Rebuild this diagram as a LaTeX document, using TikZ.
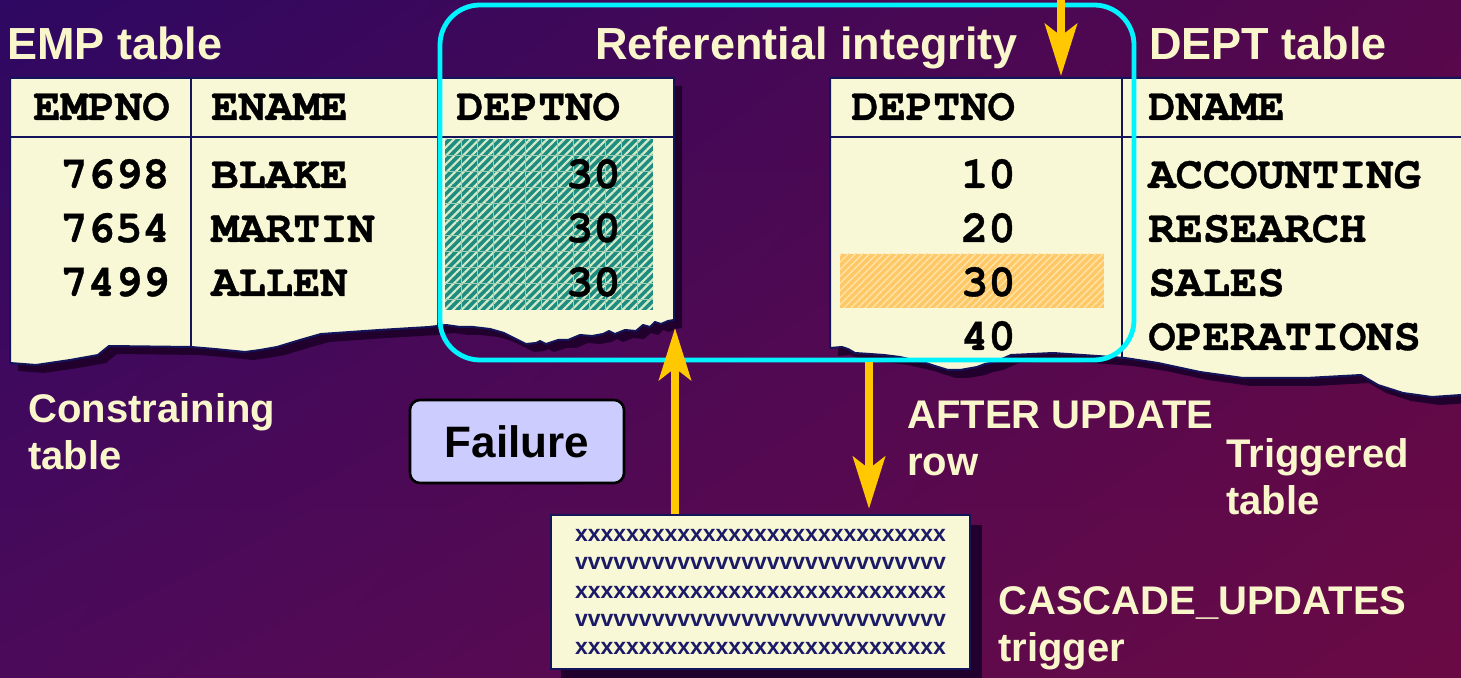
\documentclass[tikz,border=0pt]{standalone}
\usepackage{fontspec}
\setmainfont{Liberation Sans}
\newfontfamily\monofont[BoldFeatures={FakeBold=0.8}]{TeX Gyre Cursor}
\usetikzlibrary{arrows.meta,patterns.meta,shadings}
\definecolor{bgul}{HTML}{2E0862}
\definecolor{bgur}{HTML}{56084C}
\definecolor{bgll}{HTML}{4C0A5A}
\definecolor{bglr}{HTML}{6A0A44}
\definecolor{paper}{HTML}{F8F7D6}
\definecolor{navyc}{HTML}{14145A}
\definecolor{shadowc}{HTML}{22002E}
\definecolor{creamtxt}{HTML}{FAF6CC}
\definecolor{cyanc}{HTML}{00F4FF}
\definecolor{yellowc}{HTML}{FFC800}
\definecolor{tealc}{HTML}{1E8C80}
\definecolor{tealstripe}{HTML}{D4EAC8}
\definecolor{orangec}{HTML}{FFC866}
\definecolor{orangestripe}{HTML}{FFE3A8}
\definecolor{lavender}{HTML}{CCCCFF}
\definecolor{trigtxt}{HTML}{1A1A66}
\tikzset{
  title/.style={text=creamtxt, font=\bfseries\fontsize{22.5}{27}\selectfont, anchor=base west, inner sep=0pt},
  lbl/.style={text=creamtxt, font=\bfseries\fontsize{20}{23.5}\selectfont, align=left, anchor=north west, inner sep=0pt},
  cell/.style={text=black, font=\monofont\bfseries\fontsize{22.7}{27}\selectfont, inner sep=0pt},
  cellL/.style={cell, anchor=base west},
  cellR/.style={cell, anchor=base east},
  tablebody/.style={fill=paper, draw=navyc, line width=1pt, line join=round},
  tableshadow/.style={fill=shadowc},
  rule/.style={draw=navyc, line width=1pt},
  arr/.style={draw=yellowc, line width=4pt, -{Stealth[length=26pt, width=16pt, inset=6pt, fill=yellowc]}},
  cyanbox/.style={draw=cyanc, line width=2.4pt, rounded corners=20pt},
  failbox/.style={draw=black, line width=1.3pt, fill=lavender, rounded corners=5pt, minimum width=107pt, minimum height=41.5pt, font=\bfseries\fontsize{22}{26}\selectfont, inner sep=0pt},
  trigbox/.style={draw=navyc, line width=1.2pt, fill=paper, minimum width=209.5pt, minimum height=77pt, align=center, text=trigtxt, font=\bfseries\fontsize{11.5}{14.15}\selectfont, inner sep=0pt}
}
\def\emppath{(10,78) -- (674,78) -- (674,320) -- (668,321) -- (661,324) -- (655,322) -- (650,327) -- (643,325) -- (636,331) -- (625,330) -- (615,334) -- (609,331) -- (603,334) -- (592,336) -- (580,335) -- (568,340) -- (558,340) -- (546,344) -- (540,341) -- (536,343) -- (526,344) -- (518,340) -- (504,333) -- (490,329) -- (473,327) -- (460,327) -- (446,325) -- (429,327) -- (379,330) -- (321,334) -- (300,340) -- (277,347) -- (260,350) -- (245,352) -- (215,349) -- (191,347) -- (109,346) -- (104,350) -- (98,355) -- (70,360) -- (36,365) -- (10,363) -- cycle}
\def\deptpath{(830,78) -- (1480,78) -- (1480,395) -- (1461,395) -- (1432,397) -- (1403,393) -- (1378,385) -- (1361,375) -- (1306,378) -- (1243,378) -- (1200,372) -- (1158,363) -- (1125,358) -- (1112,357) -- (1053,353) -- (1011,355) -- (995,362) -- (985,364) -- (977,367) -- (960,370) -- (948,370) -- (935,366) -- (926,363) -- (900,357) -- (884,355) -- (870,354) -- (855,353) -- (848,349) -- (842,347) -- (830,348) -- cycle}
\begin{document}
\begin{tikzpicture}[x=0.5pt,y=-0.5pt]
\useasboundingbox (0,0) rectangle (1461,678);
\clip (0,0) rectangle (1461,678);
% background
\shade[upper left=bgul, upper right=bgur, lower left=bgll, lower right=bglr] (0,0) rectangle (1461,678);

% ---------- EMP table ----------
\fill[tableshadow, shift={(8,8)}] \emppath;
\path[tablebody] \emppath;
\fill[tealc] (445,139) rectangle (653,310);
\fill[pattern={Lines[angle=45, distance=3pt, line width=1.1pt]}, pattern color=tealstripe] (445,139) rectangle (653,310);
\foreach \gy in {155,171,187,203,219,235,251,267,283,299}{
  \draw[tealstripe!70!tealc, line width=0.4pt] (445,\gy) -- (653,\gy);
}
\foreach \gx in {461,477,493,509,525,541,557,573,589,605,621,637}{
  \draw[tealstripe!70!tealc, line width=0.4pt] (\gx,139) -- (\gx,310);
}
\draw[rule] (10,137) -- (674,137);
\draw[rule] (191,78) -- (191,347);
\draw[rule] (438,78) -- (438,327);

\node[cellL] (h-empno) at (33,120) {EMPNO};
\node[cellL] (h-ename) at (211,120) {ENAME};
\node[cellL] (h-deptno1) at (456,120) {DEPTNO};
\node[cellR] (e1) at (170,188) {7698};
\node[cellR] (e2) at (170,242) {7654};
\node[cellR] (e3) at (170,296) {7499};
\node[cellL] (n1) at (211,188) {BLAKE};
\node[cellL] (n2) at (211,242) {MARTIN};
\node[cellL] (n3) at (211,296) {ALLEN};
\node[cellR] (d1) at (621,188) {30};
\node[cellR] (d2) at (621,242) {30};
\node[cellR] (d3) at (621,296) {30};

% ---------- DEPT table ----------
\fill[tableshadow, shift={(8,8)}] \deptpath;
\path[tablebody] \deptpath;
\fill[orangec] (840,254) rectangle (1104,308);
\fill[pattern={Lines[angle=45, distance=2.5pt, line width=0.7pt]}, pattern color=orangestripe] (840,254) rectangle (1104,308);
\draw[rule] (830,137) -- (1480,137);
\draw[rule] (1122,78) -- (1122,357);

\node[cellL] (h-deptno2) at (851,120) {DEPTNO};
\node[cellL] (h-dname) at (1148,120) {DNAME};
\node[cellR] (p1) at (1016,188) {10};
\node[cellR] (p2) at (1016,242) {20};
\node[cellR] (p3) at (1016,296) {30};
\node[cellR] (p4) at (1016,350) {40};
\node[cellL] (q1) at (1148,188) {ACCOUNTING};
\node[cellL] (q2) at (1148,242) {RESEARCH};
\node[cellL] (q3) at (1148,296) {SALES};
\node[cellL] (q4) at (1148,350) {OPERATIONS};

% ---------- titles ----------
\node[title] (t-emp) at (7,60) {EMP table};
\node[title] (t-ref) at (595,60) {Referential integrity};
\node[title] (t-dept) at (1149,60) {DEPT table};

% ---------- referential integrity frame ----------
\draw[cyanbox] (440,5) rectangle (1134,360);

% ---------- failure & trigger ----------
\node[failbox] (fail) at (517,441.5) {Failure};
\fill[shadowc] (561,525) rectangle (982,690);
\node[trigbox] (trig) at (760.5,592) {xxxxxxxxxxxxxxxxxxxxxxxxxxxxx\\vvvvvvvvvvvvvvvvvvvvvvvvvvvvv\\xxxxxxxxxxxxxxxxxxxxxxxxxxxxx\\vvvvvvvvvvvvvvvvvvvvvvvvvvvvv\\xxxxxxxxxxxxxxxxxxxxxxxxxxxxx};

% ---------- arrows ----------
\coordinate (topsrc) at (1061,-10);
\coordinate (deptin) at (1061,76);
\coordinate (empbot) at (675,328);
\coordinate (deptbot) at (869,362);
\draw[arr] (topsrc) -- (deptin);
\draw[arr] (trig.north -| empbot) -- (empbot);
\draw[arr] (deptbot) -- ([yshift=2.5pt]deptbot |- trig.north);

% ---------- labels ----------
\node[lbl] (l-constr) at (28,393) {Constraining\\table};
\node[lbl] (l-after) at (907,401) {AFTER UPDATE\\row};
\node[lbl] (l-trig) at (1226,438) {Triggered\\table};
\node[lbl] (l-casc) at (998,586) {CASCADE\_UPDATES\\trigger};
\end{tikzpicture}
\end{document}
